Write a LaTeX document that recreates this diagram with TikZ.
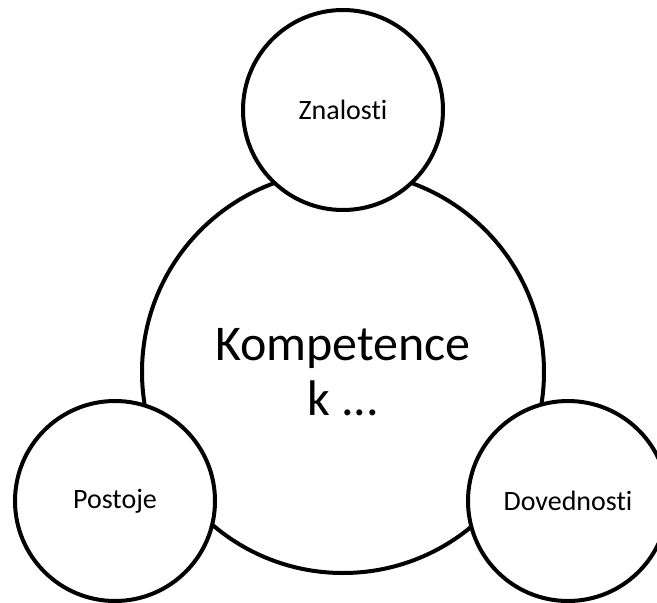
\documentclass[tikz,border=0pt]{standalone}
\usepackage{fontspec}
\setmainfont{Carlito}[Ligatures={NoCommon,NoRequired,NoContextual}]
\begin{document}
\begin{tikzpicture}[x=1pt,y=-1pt,
  bigcirc/.style={circle,draw=black,fill=white,line width=4pt,minimum size=402pt,inner sep=0pt,align=center,font=\fontsize{50}{55}\selectfont},
  smallcirc/.style={circle,draw=black,fill=white,line width=4pt,minimum size=200pt,inner sep=0pt,font=\fontsize{28}{32}\selectfont}]
\useasboundingbox (0,0) rectangle (657,603);
\clip (0,0) rectangle (657,603);
\node[bigcirc] (komp) at (343,372) {Kompetence\\k ...};
\node[smallcirc] (znal) at (343,110) {Znalosti};
\node[smallcirc] (post) at (115,501) {Postoje};
\node[smallcirc] (dove) at (568,501) {Dovednosti};
\end{tikzpicture}
\end{document}
